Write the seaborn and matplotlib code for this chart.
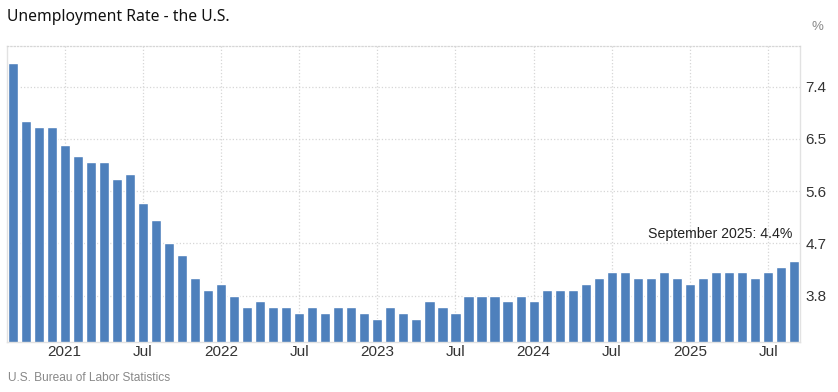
import numpy as np
import pandas as pd
import matplotlib.pyplot as plt
import seaborn as sns

# monthly data, Sep 2020 - Sep 2025
months = pd.date_range("2020-09-01", "2025-09-01", freq="MS")
rates = [7.8, 6.8, 6.7, 6.7,
         6.4, 6.2, 6.1, 6.1, 5.8, 5.9, 5.4, 5.1, 4.7, 4.5, 4.1, 3.9,
         4.0, 3.8, 3.6, 3.7, 3.6, 3.6, 3.5, 3.6, 3.5, 3.6, 3.6, 3.5,
         3.4, 3.6, 3.5, 3.4, 3.7, 3.6, 3.5, 3.8, 3.8, 3.8, 3.7, 3.8,
         3.7, 3.9, 3.9, 3.9, 4.0, 4.1, 4.2, 4.2, 4.1, 4.1, 4.2, 4.1,
         4.0, 4.1, 4.2, 4.2, 4.2, 4.1, 4.2, 4.3, 4.4]
tick_labels = ["2021", "Jul", "2022", "Jul", "2023", "Jul", "2024", "Jul", "2025", "Jul"]
y_ticks = [3.8, 4.7, 5.6, 6.5, 7.4]

df = pd.DataFrame({"month": months.strftime("%Y-%m"), "rate": rates})

sns.set_theme(style="white")
plt.rcParams["font.family"] = ["Liberation Sans", "DejaVu Sans"]

fig = plt.figure(figsize=(8.38, 3.92), dpi=100)
ax = fig.add_axes([7 / 838, 1 - 342 / 392, 793 / 838, 296 / 392])

sns.barplot(data=df, x="month", y="rate", color="#4e80bc", saturation=1,
            width=0.78, ax=ax)

ax.set_xlim(-0.43, len(rates) - 0.55)
ax.set_ylim(3.0, 8.1)

# ticks at January / July
tick_pos = [i for i, m in enumerate(months) if m.month in (1, 7)]
ax.set_xticks(tick_pos)
ax.set_xticklabels(tick_labels)
ax.yaxis.tick_right()
ax.set_yticks(y_ticks)
ax.set_yticklabels([f"{v:.1f}" for v in y_ticks])
ax.tick_params(axis="x", length=0, pad=2, labelsize=11, labelcolor="#333333")
ax.tick_params(axis="y", length=0, pad=4, labelsize=11, labelcolor="#333333")
ax.set_xlabel("")
ax.set_ylabel("")

ax.set_axisbelow(True)
ax.grid(True, linestyle=":", color="#d6d6d6", linewidth=0.9)

for side in ["left", "bottom", "right"]:
    ax.spines[side].set_color("#e2e2e2")
    ax.spines[side].set_linewidth(1)
ax.spines["top"].set_color("#d6d6d6")
ax.spines["top"].set_linestyle(":")
ax.spines["top"].set_linewidth(0.9)

ax.text(59.9, 4.86, "September 2025: 4.4%", ha="right", va="center",
        fontsize=10.2, color="#222222")

fig.text(7 / 838, 1 - 17 / 392, "Unemployment Rate - the U.S.", ha="left", va="center",
         fontsize=11.3, color="#111111", family=["Noto Sans", "DejaVu Sans"])
fig.text(817 / 838, 1 - 27 / 392, "%", ha="center", va="center",
         fontsize=9.5, color="#888888")
fig.text(8 / 838, 1 - 378 / 392, "U.S. Bureau of Labor Statistics", ha="left", va="center",
         fontsize=8.6, color="#888888")

fig.savefig("out.png", dpi=100)
